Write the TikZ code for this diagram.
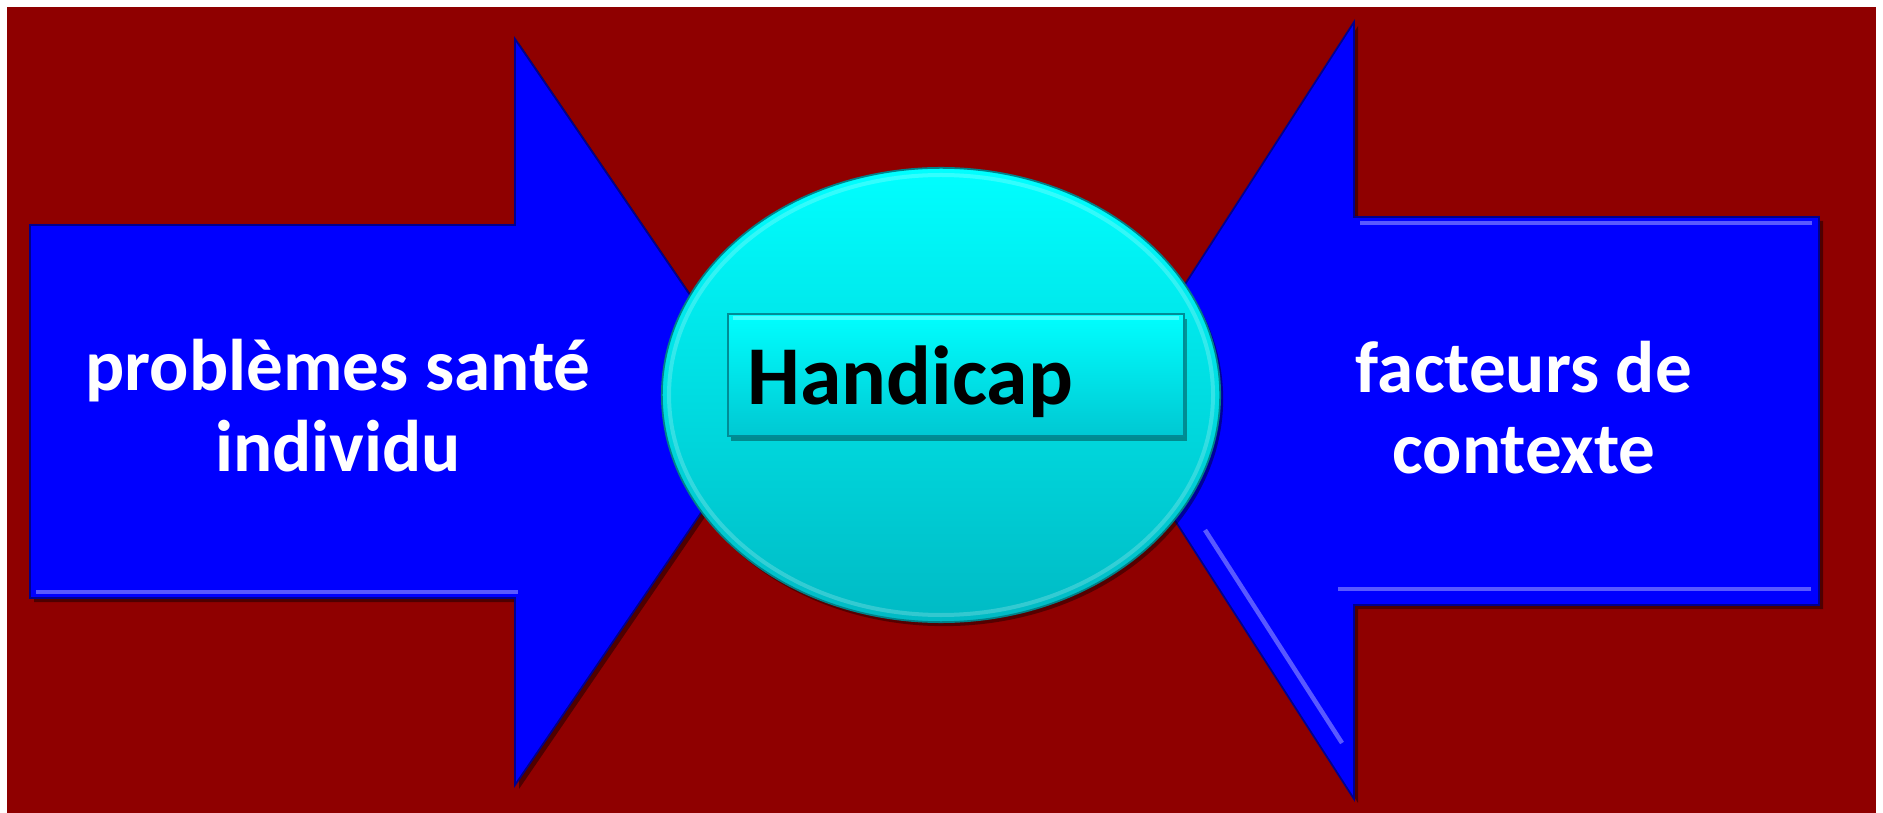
\documentclass[tikz,border=0pt]{standalone}
\usepackage{fontspec}
\setmainfont{Carlito}
\usetikzlibrary{shapes.geometric,shadows}

\definecolor{wine}{RGB}{143,0,0}
\definecolor{arrowblue}{RGB}{0,0,255}
\definecolor{rimblue}{RGB}{0,0,140}
\definecolor{hubtop}{RGB}{0,255,255}
\definecolor{hubbottom}{RGB}{0,186,196}
\definecolor{boxbottom}{RGB}{0,200,210}
\definecolor{boxrim}{RGB}{0,140,150}

\begin{document}
\begin{tikzpicture}[x=0.01cm, y=-0.01cm,
    nodes = {font=\bfseries},
    bigarrow/.style = {fill=arrowblue, draw=rimblue, line width=0.5pt,
      drop shadow={opacity=0.45, fill=black, shadow xshift=0.04cm, shadow yshift=-0.04cm}},
    bevel/.style = {draw=arrowblue!65!white, line width=0.045cm},
    sidetext/.style = {text=white, align=center, inner sep=0pt,
      font=\bfseries\fontsize{20.8}{23}\selectfont},
    hub/.style = {ellipse, inner sep=0pt, minimum width=5.58cm, minimum height=4.54cm,
      top color=hubtop, bottom color=hubbottom, draw=hubbottom!70!black, line width=0.5pt,
      drop shadow={opacity=0.4, fill=black, shadow xshift=0.03cm, shadow yshift=-0.04cm}},
    labelbox/.style = {rectangle, inner sep=0pt, minimum width=4.56cm, minimum height=1.22cm,
      top color=hubtop, bottom color=boxbottom, draw=boxrim, line width=0.6pt,
      drop shadow={opacity=0.35, fill=black, shadow xshift=0.03cm, shadow yshift=-0.05cm}}]

  % page and background
  \useasboundingbox (0,0) rectangle (1883,813);
  \fill[wine] (7,7) rectangle (1876,813);

  % arrow from the left, pointing right
  \path[bigarrow] (30,225) -- (515,225) -- (515,39) -- (770,412)
    -- (515,785) -- (515,598) -- (30,598) -- cycle;
  \draw[bevel] (36,592) -- (518,592);

  % arrow from the right, pointing left
  \path[bigarrow] (1819,217) -- (1354,217) -- (1354,22) -- (1104,410)
    -- (1354,799) -- (1354,605) -- (1819,605) -- cycle;
  \draw[bevel] (1360,223) -- (1812,223);            % top edge light
  \draw[bevel] (1338,589) -- (1811,589);            % bottom edge light
  \draw[bevel] (1205,530) -- (1342,743);            % lower slope light

  % centre
  \node[hub] (hub) at (941,395) {};
  \draw[white, opacity=0.2, line width=0.04cm]
    (hub.center) ellipse [x radius=272, y radius=220];
  \node[labelbox] (handbox) at (956,375) {};
  \draw[white, opacity=0.3, line width=0.04cm]
    ([xshift=0.06cm,yshift=-0.05cm]handbox.north west) -- ([xshift=-0.06cm,yshift=-0.05cm]handbox.north east);
  \node[anchor=base west, inner sep=0pt,
    font=\bfseries\fontsize{23.8}{28}\selectfont] (handicap) at (747,405) {Handicap};

  % texts on the arrows
  \node[sidetext] (health) at (338,406) {problèmes santé\\individu};
  \node[sidetext] (context) at (1524,408) {facteurs de\\contexte};
\end{tikzpicture}
\end{document}
